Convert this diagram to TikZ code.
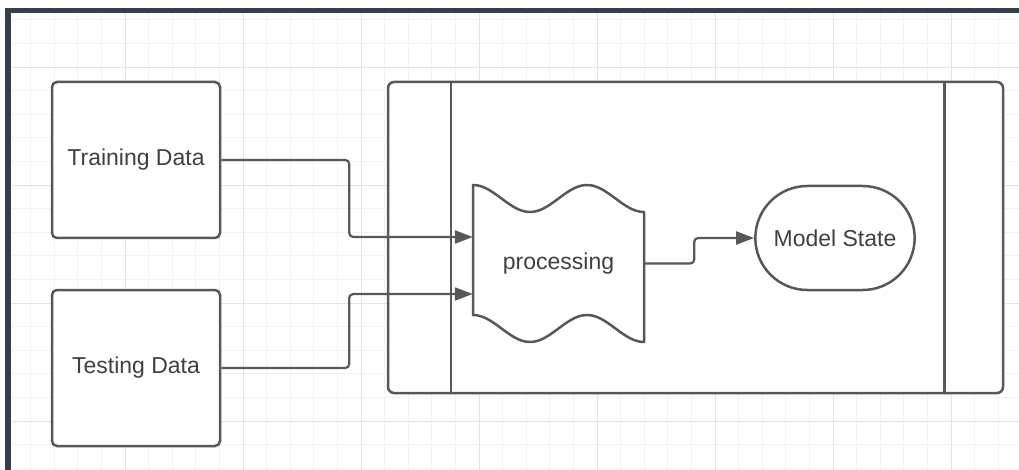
\documentclass[tikz,border=0pt]{standalone}
\usepackage{fontspec}
\setmainfont{Liberation Sans}
\usetikzlibrary{arrows.meta,shapes.misc}
\definecolor{framenavy}{RGB}{54,62,78}
\definecolor{edgegray}{RGB}{88,88,88}
\definecolor{labelgray}{RGB}{64,64,64}
\tikzset{
  shapeline/.style={draw=edgegray, line width=2.5pt},
  labeltext/.style={text=labelgray, font=\fontsize{23}{27}\selectfont},
  databox/.style={shapeline, labeltext, fill=white, rounded corners=5pt, minimum width=168pt, minimum height=156pt},
  flow/.style={edgegray, line width=2.2pt, rounded corners=4pt, -{Triangle[length=18pt,width=13pt]}},
  gridminor/.style={black!5, line width=0.8pt},
  gridmajor/.style={black!11, line width=0.8pt}
}

\begin{document}
\begin{tikzpicture}[x=1pt,y=-1pt]
\useasboundingbox (0,0) rectangle (1019,470);
% background grid
\foreach \i in {0,...,43} \draw[gridminor] ({7+\i*23.6},13) -- ({7+\i*23.6},470);
\foreach \i in {0,...,20} \draw[gridminor] (11,{19.8+\i*23.6}) -- (1019,{19.8+\i*23.6});
\foreach \i in {1,...,8} \draw[gridmajor] ({7+\i*118},13) -- ({7+\i*118},470);
\foreach \i in {0,...,3} \draw[gridmajor] (11,{67+\i*118}) -- (1019,{67+\i*118});
% page frame
\fill[framenavy] (5,8) rectangle (1019,13);
\fill[framenavy] (5,8) rectangle (11,470);

% input data
\node[databox] (train) at (136,160) {Training Data};
\node[databox] (test) at (136,368) {Testing Data};

% pool with two lanes
\node[shapeline, fill=white, rounded corners=6pt, minimum width=615pt, minimum height=311pt] (pool) at (695.5,237.5) {};
\draw[shapeline] ([xshift=64pt]pool.north west) -- ([xshift=64pt]pool.south west);
\draw[shapeline] ([xshift=-60pt]pool.north east) -- ([xshift=-60pt]pool.south east);

% processing tape
\draw[shapeline, fill=white, line join=round]
  plot[domain=0:171, samples=50] ({473+\x},{198.5-13.5*cos(\x/114*360)})
  -- plot[domain=171:0, samples=50] ({473+\x},{328.5-13.5*cos(\x/114*360)}) -- cycle;
\node[labeltext, inner sep=0, minimum width=171pt, minimum height=130pt] (proc) at (558.5,263.5) {\raisebox{3pt}{processing}};

% model state
\node[shapeline, labeltext, rounded rectangle, fill=white, minimum width=166pt, minimum height=104pt] (state) at (835,238) {Model State};

% connectors
\draw[flow] (train.east) -- ++(128,0) |- ([yshift=26.5pt]proc.west);
\draw[flow] (test.east) -- ++(128,0) |- ([yshift=-30.5pt]proc.west);
\draw[flow] (proc.east) -- ++(50,0) |- (state.west);
\end{tikzpicture}
\end{document}
